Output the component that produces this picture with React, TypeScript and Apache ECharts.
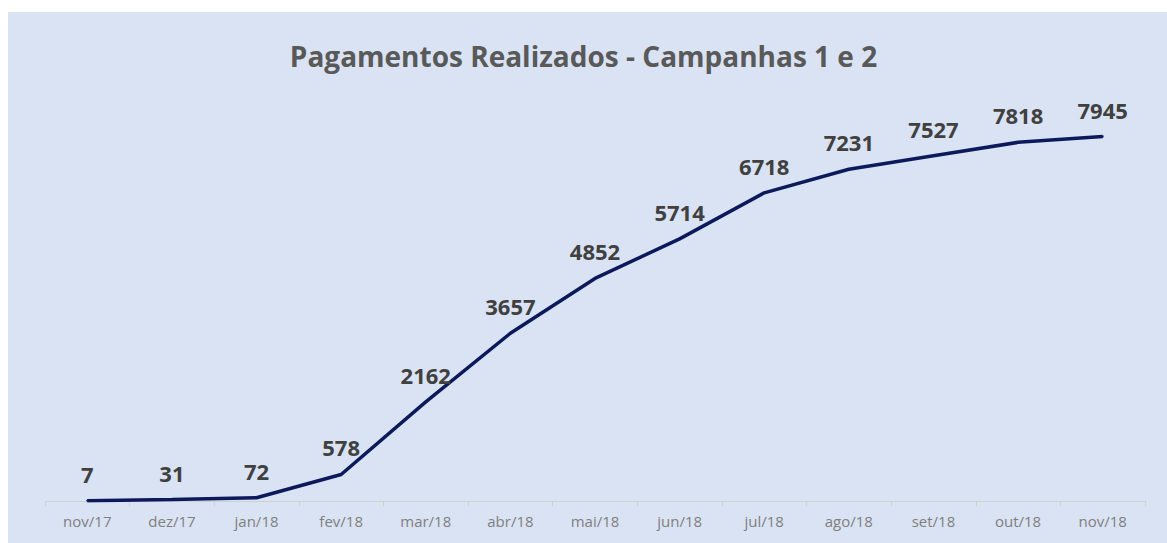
import React, { useEffect, useRef } from "react";
import * as echarts from "echarts";

const categories = ["nov/17", "dez/17", "jan/18", "fev/18", "mar/18", "abr/18", "mai/18", "jun/18", "jul/18", "ago/18", "set/18", "out/18", "nov/18"];
const pagamentos = [7, 31, 72, 578, 2162, 3657, 4852, 5714, 6718, 7231, 7527, 7818, 7945];
const titleText = "Pagamentos Realizados - Campanhas 1 e 2";

export default function App() {
  const ref = useRef<HTMLDivElement>(null);
  useEffect(() => {
    if (!ref.current) return;
    const chart = echarts.init(ref.current, undefined, { renderer: "svg" });
    chart.setOption({
      animation: false,
      backgroundColor: "#ffffff",
      graphic: [
        {
          type: "rect",
          shape: { x: 8, y: 12, width: 1159, height: 531 },
          style: { fill: "#dae3f3" },
          z: -10,
          silent: true,
        },
      ],
      title: {
        text: titleText,
        left: "center",
        top: 37,
        textStyle: { fontFamily: "Open Sans", fontWeight: "bold", fontSize: 28, color: "#595959" },
      },
      grid: { left: 45, right: 22, top: 134, bottom: 42 },
      xAxis: {
        type: "category",
        data: categories,
        boundaryGap: true,
        axisLine: { lineStyle: { color: "#d0d0d0", width: 1 } },
        axisTick: { show: true, length: 5, lineStyle: { color: "#d0d0d0" } },
        axisLabel: { fontFamily: "Open Sans", fontSize: 15, color: "#7f7f7f", margin: 12 },
      },
      yAxis: {
        type: "value",
        min: 0,
        max: 8000,
        show: false,
        splitLine: { show: false },
      },
      series: [
        {
          type: "line",
          data: pagamentos,
          symbol: "circle",
          symbolSize: 2,
          showSymbol: true,
          showAllSymbol: true,
          itemStyle: { color: "#0c1a5c" },
          lineStyle: { color: "#0c1a5c", width: 3.5 },
          label: {
            show: true,
            position: "top",
            distance: 15,
            fontFamily: "Open Sans",
            fontWeight: "bold",
            fontSize: 22,
            color: "#404040",
          },
        },
      ],
    });
    return () => chart.dispose();
  }, []);
  return <div ref={ref} style={{ position: "absolute", left: 0, top: 0, width: 1167, height: 543 }} />;
}
